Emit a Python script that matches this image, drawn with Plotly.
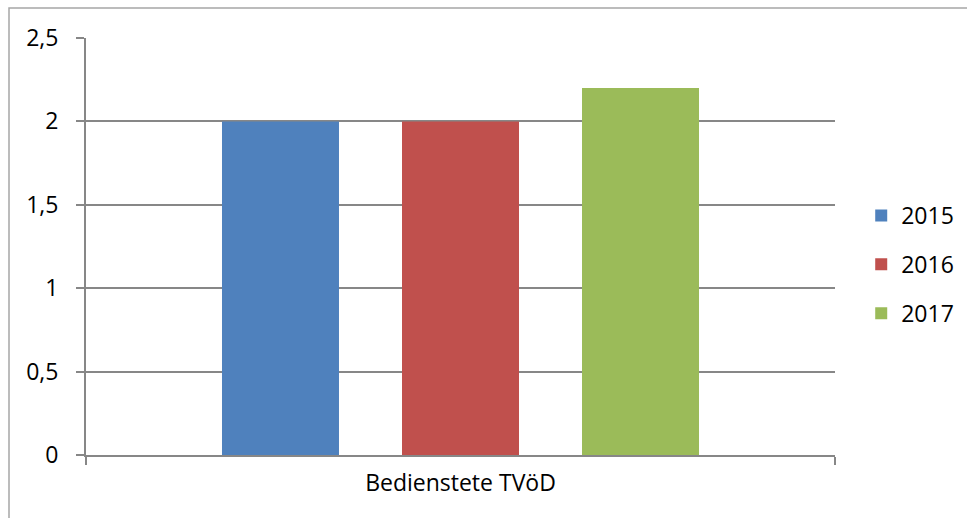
import plotly.graph_objects as go

categories = ["Bedienstete TVöD"]
years = ["2015", "2016", "2017"]
values = {
    "2015": [2.0],
    "2016": [2.0],
    "2017": [2.2],
}
colors = {"2015": "#4F81BD", "2016": "#C0504D", "2017": "#9BBB59"}

fig = go.Figure()
for i, yr in enumerate(years):
    fig.add_trace(go.Bar(
        x=categories, y=values[yr], name=yr,
        marker=dict(color=colors[yr], line=dict(width=0)),
        legendgroup=yr,
    ))

font = "'Open Sans', 'Noto Sans', sans-serif"
grid = "#878787"
fs = 23

fig.update_layout(
    width=967, height=518,
    margin=dict(l=86, r=132, t=38, b=63, autoexpand=False),
    paper_bgcolor="white", plot_bgcolor="white",
    separators=",.",
    barmode="group", bargap=0.279, bargroupgap=0.35,
    font=dict(family=font, size=fs, color="#000000"),
    showlegend=True,
    legend=dict(x=1.035, y=0.457, xanchor="left", yanchor="middle",
                font=dict(size=fs), tracegroupgap=16,
                bgcolor="rgba(0,0,0,0)"),
    xaxis=dict(
        range=[-0.5, 0.5], showline=True, linecolor=grid, linewidth=2,
        ticks="outside", tickson="boundaries", ticklen=8, tickcolor=grid,
        tickwidth=2, showgrid=False, tickfont=dict(size=fs),
        ticklabelstandoff=6,
    ),
    yaxis=dict(
        range=[0, 2.5], tickvals=[0, 0.5, 1, 1.5, 2, 2.5],
        showline=True, linecolor=grid, linewidth=2,
        ticks="outside", ticklen=8, tickcolor=grid, tickwidth=2,
        showgrid=True, gridcolor=grid, gridwidth=1.5, zeroline=False,
        tickfont=dict(size=fs), ticklabelstandoff=13,
    ),
    shapes=[dict(
        type="rect", xref="paper", yref="paper",
        x0=-0.1028, y0=-0.2, x1=1.2, y1=1.0719,
        line=dict(color="#A6A6A6", width=1.5), layer="below",
    )],
)

fig.write_html("out.html")
